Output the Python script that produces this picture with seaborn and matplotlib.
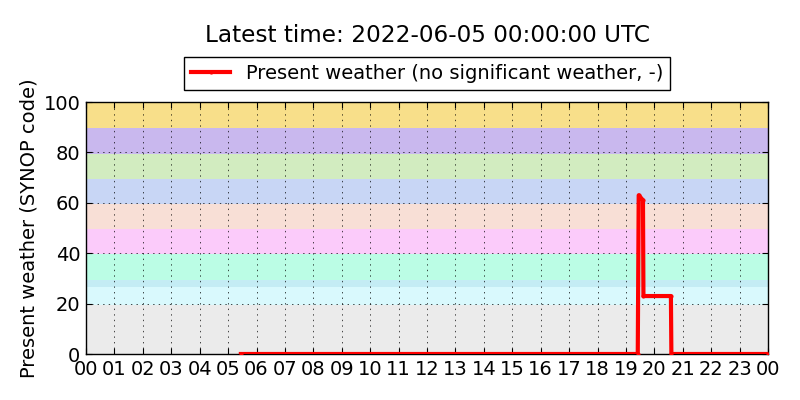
import pandas as pd
import seaborn as sns
import matplotlib.pyplot as plt
import matplotlib.dates as mdates

# Present weather observations (UTC, SYNOP code)
obs_times = ["2022-06-04 05:27", "2022-06-04 19:25", "2022-06-04 19:27",
             "2022-06-04 19:36", "2022-06-04 19:37", "2022-06-04 20:35",
             "2022-06-04 20:36", "2022-06-05 00:00"]
obs_codes = [0, 0, 63, 61, 23, 23, 0, 0]

# SYNOP code groups as coloured background bands
band_edges = [0, 19.5, 26.5, 29.5, 39.5, 49.5, 59.5, 69.5, 79.5, 89.5, 100]
band_colors = ["#ebebeb", "#d9f9fd", "#c4ecf4", "#bbfde5", "#fbcbfa",
               "#f8dfd6", "#c8d6f5", "#d2ecc0", "#c9b8ee", "#f8df8a"]

y_ticks = [0, 20, 40, 60, 80, 100]
latest = "2022-06-05 00:00:00"

df = pd.DataFrame({"time": pd.to_datetime(obs_times), "code": obs_codes})

fig = plt.figure(figsize=(8, 4), dpi=100, facecolor="white")
ax = fig.add_axes([0.1075, 0.115, 0.8525, 0.63])

for lo, hi, c in zip(band_edges[:-1], band_edges[1:], band_colors):
    ax.axhspan(lo, hi, color=c, lw=0, zorder=0)

sns.lineplot(data=df, x="time", y="code", ax=ax, color="red", lw=3,
             marker=".", markersize=6, markeredgewidth=0,
             label="Present weather (no significant weather, -)", zorder=3)

ax.set_xlim(pd.Timestamp("2022-06-04 00:00"), pd.Timestamp("2022-06-05 00:00"))
ax.set_ylim(0, 100)
ax.set_yticks(y_ticks)
ax.xaxis.set_major_locator(mdates.HourLocator())
ax.xaxis.set_major_formatter(mdates.DateFormatter("%H"))
ax.tick_params(direction="in", top=True, right=True, length=4, labelsize=14, pad=4)
ax.grid(True, color="black", linestyle=(0, (2, 6)), lw=0.5)
ax.set_axisbelow(False)
for s in ax.spines.values():
    s.set_linewidth(1)

ax.set_xlabel("")
ax.set_ylabel("Present weather (SYNOP code)", fontsize=14)

ax.legend(loc="lower center", bbox_to_anchor=(0.5, 1.01), fontsize=14,
          fancybox=False, edgecolor="black", framealpha=1, numpoints=1,
          handlelength=2, borderpad=0.35)
ax.set_title(f"Latest time: {latest} UTC", fontsize=16.7, pad=43)

fig.savefig("out.png", dpi=100, facecolor="white")
